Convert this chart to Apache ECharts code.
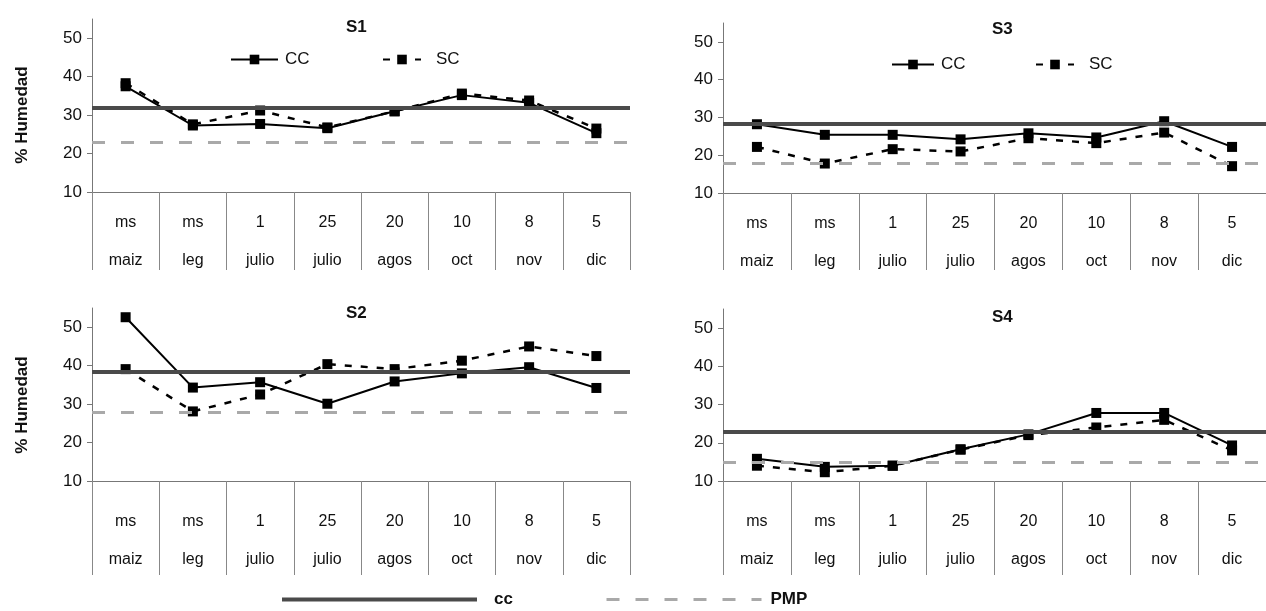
<!DOCTYPE html>
<html>
<head>
<meta charset="utf-8">
<script src="https://cdn.jsdelivr.net/npm/echarts@6/dist/echarts.min.js"></script>
<style>
html,body{margin:0;padding:0;background:#fff;}
#chart{width:1266px;height:611px;}
</style>
</head>
<body>
<div id="chart"></div>
<script>
// ---- data ----
const categories = ['ms\nmaiz', 'ms\nleg', '1\njulio', '25\njulio', '20\nagos', '10\noct', '8\nnov', '5\ndic'];
const yTicks = [10, 20, 30, 40, 50];
const panelNames = ['S1', 'S3', 'S2', 'S4'];

const s1CC = [37.5, 27.3, 27.7, 26.6, 31.0, 35.2, 33.2, 25.3];
const s1SC = [38.3, 27.6, 31.2, 26.8, 31.0, 35.6, 33.8, 26.5];
const s3CC = [28.2, 25.4, 25.4, 24.2, 25.8, 24.7, 29.0, 22.2];
const s3SC = [22.2, 17.8, 21.6, 21.0, 24.5, 23.2, 26.0, 17.1];
const s2CC = [52.6, 34.3, 35.7, 30.1, 35.9, 38.0, 39.6, 34.2];
const s2SC = [39.1, 28.1, 32.5, 40.4, 39.1, 41.3, 45.0, 42.5];
const s4CC = [15.8, 13.7, 14.0, 18.3, 22.2, 27.8, 27.8, 19.3];
const s4SC = [14.0, 12.3, 14.0, 18.2, 22.0, 24.0, 26.0, 18.0];

// reference levels: capacidad de campo (cc) and punto de marchitez permanente (PMP)
const ccLevels  = [32.0, 28.4, 38.3, 23.0];
const pmpLevels = [23.0, 18.0, 27.9, 14.8];

const ccSeries = [s1CC, s3CC, s2CC, s4CC];
const scSeries = [s1SC, s3SC, s2SC, s4SC];

// ---- layout / style ----
const FONT = "'Liberation Sans', Arial, sans-serif";
const grids = [
  {left: 92,  top: 19,  width: 538, height: 173},
  {left: 723, top: 23,  width: 556, height: 170},
  {left: 92,  top: 308, width: 538, height: 173},
  {left: 723, top: 309, width: 556, height: 172}
];
const labelMargins = [12, 12, 22, 22];
const tickLengths = [78, 77, 94, 94];
const titlePos = [[341, 14], [987, 16], [341, 300], [987, 304]];

const ccStyle  = {color: '#4a4a4a', width: 4, type: 'solid'};
const pmpStyle = {color: '#a9a9a9', width: 3, type: [13, 16]};

const xAxes = [], yAxes = [], series = [], titles = [];
for (let i = 0; i < 4; i++) {
  xAxes.push({
    type: 'category', gridIndex: i, data: categories, boundaryGap: true,
    axisLine: {lineStyle: {color: '#777', width: 1}},
    axisTick: {show: true, length: tickLengths[i], lineStyle: {color: '#888'}},
    axisLabel: {interval: 0, fontFamily: FONT, fontSize: 16, color: '#111', lineHeight: 38, margin: labelMargins[i]}
  });
  yAxes.push({
    type: 'value', gridIndex: i, min: 10, max: 55, interval: 10,
    splitLine: {show: false},
    axisLine: {show: true, lineStyle: {color: '#777', width: 1}},
    axisTick: {show: true, length: 5, lineStyle: {color: '#777'}},
    axisLabel: {showMaxLabel: false, fontFamily: FONT, fontSize: 17, color: '#111', margin: 10}
  });
  titles.push({
    text: panelNames[i], left: titlePos[i][0], top: titlePos[i][1],
    textStyle: {fontFamily: FONT, fontSize: 17, fontWeight: 'bold', color: '#111'}
  });
  series.push({
    name: 'cc', type: 'line', xAxisIndex: i, yAxisIndex: i, data: [],
    symbol: 'none', itemStyle: {color: ccStyle.color}, lineStyle: ccStyle, z: 1,
    markLine: {silent: true, symbol: ['none', 'none'], animation: false,
      label: {show: false}, lineStyle: ccStyle, data: [{yAxis: ccLevels[i]}]}
  });
  series.push({
    name: 'PMP', type: 'line', xAxisIndex: i, yAxisIndex: i, data: [],
    symbol: 'none', itemStyle: {color: pmpStyle.color}, lineStyle: pmpStyle, z: 1,
    markLine: {silent: true, symbol: ['none', 'none'], animation: false,
      label: {show: false}, lineStyle: pmpStyle, data: [{yAxis: pmpLevels[i]}]}
  });
  series.push({
    name: 'CC', type: 'line', xAxisIndex: i, yAxisIndex: i, data: ccSeries[i],
    symbol: 'rect', symbolSize: 10, showAllSymbol: true, z: 3,
    itemStyle: {color: '#000'}, lineStyle: {color: '#000', width: 2, type: 'solid'}
  });
  series.push({
    name: 'SC', type: 'line', xAxisIndex: i, yAxisIndex: i, data: scSeries[i],
    symbol: 'rect', symbolSize: 10, showAllSymbol: true, z: 3,
    itemStyle: {color: '#000'}, lineStyle: {color: '#000', width: 2.5, type: [7, 9]}
  });
}

const legTxt = {fontFamily: FONT, fontSize: 17, color: '#111', padding: [0, 0, 0, 2]};
const legBold = {fontFamily: FONT, fontSize: 17, fontWeight: 'bold', color: '#111'};
const hiddenSymbol = {opacity: 0};
const legends = [
  {data: ['CC'], left: 225, top: 46, itemWidth: 47, itemHeight: 12, textStyle: legTxt, selectedMode: false},
  {data: ['SC'], left: 377, top: 46, itemWidth: 38, itemHeight: 12, textStyle: Object.assign({}, legTxt, {padding: [0, 0, 0, 10]}), selectedMode: false},
  {data: ['CC'], left: 886, top: 51, itemWidth: 42, itemHeight: 12, textStyle: legTxt, selectedMode: false},
  {data: ['SC'], left: 1030, top: 51, itemWidth: 38, itemHeight: 12, textStyle: Object.assign({}, legTxt, {padding: [0, 0, 0, 10]}), selectedMode: false},
  {data: ['cc'], left: 275, top: 586, itemWidth: 195, itemHeight: 8, itemStyle: hiddenSymbol,
    lineStyle: {width: 4, color: '#4a4a4a'}, textStyle: Object.assign({}, legBold, {padding: [4, 0, 0, 12]}), selectedMode: false},
  {data: ['PMP'], left: 600, top: 586, itemWidth: 155, itemHeight: 8, itemStyle: hiddenSymbol,
    lineStyle: {width: 3, color: '#a9a9a9', type: [13, 16]}, textStyle: Object.assign({}, legBold, {padding: [0, 0, 0, 4]}), selectedMode: false}
];

const chart = echarts.init(document.getElementById('chart'), null, {renderer: 'canvas'});
chart.setOption({
  backgroundColor: '#fff',
  animation: false,
  title: titles,
  legend: legends,
  grid: grids,
  xAxis: xAxes,
  yAxis: yAxes,
  series: series,
  graphic: [
    {type: 'text', x: 22, y: 115, rotation: Math.PI / 2,
      style: {text: '% Humedad', font: "bold 17px 'Liberation Sans', Arial", fill: '#111', textAlign: 'center', textVerticalAlign: 'middle'}},
    {type: 'text', x: 22, y: 405, rotation: Math.PI / 2,
      style: {text: '% Humedad', font: "bold 17px 'Liberation Sans', Arial", fill: '#111', textAlign: 'center', textVerticalAlign: 'middle'}}
  ]
});
</script>
</body>
</html>
